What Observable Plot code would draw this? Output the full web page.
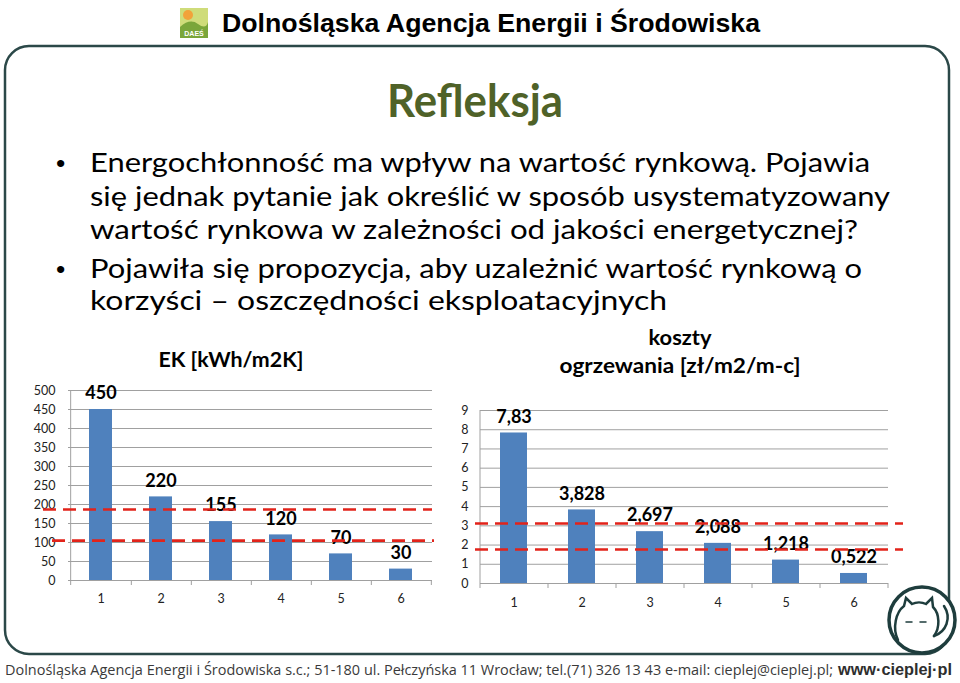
<!DOCTYPE html>
<html>
<head>
<meta charset="utf-8">
<script src="https://cdn.jsdelivr.net/npm/d3@7"></script>
<script src="https://cdn.jsdelivr.net/npm/@observablehq/plot@0.6"></script>
<style>
  html, body { margin: 0; padding: 0; background: #fff; }
  #page { position: relative; width: 960px; height: 683px; overflow: hidden; background: #fff; }
  #deco { position: absolute; left: 0; top: 0; }
  #ek { position: absolute; left: 0; top: 370px; }
  #cost { position: absolute; left: 440px; top: 380px; }
</style>
</head>
<body>
<div id="page">
<svg id="deco" width="960" height="683" viewBox="0 0 960 683">
  <!-- header logo -->
  <rect x="180" y="8" width="28" height="30" fill="#cfdc7a"/>
  <circle cx="188" cy="15" r="5" fill="#f2a23a"/>
  <path d="M180,27 Q190,18 198,24 T208,22 L208,38 L180,38 Z" fill="#7aa63a"/>
  <text x="194" y="36" text-anchor="middle" font-family="Liberation Sans" font-weight="bold" font-size="7" fill="#fff">DAEŚ</text>
  <text x="222" y="32" font-family="Liberation Sans Narrow, Liberation Sans" font-weight="bold" font-size="26" textLength="538" lengthAdjust="spacingAndGlyphs" fill="#000">Dolnośląska  Agencja  Energii  i  Środowiska</text>
  <!-- frame -->
  <rect x="5" y="46" width="944" height="608" rx="24" ry="24" fill="none" stroke="#2b4848" stroke-width="2.5"/>
  <!-- title -->
  <text x="387" y="117" font-family="Lato" font-weight="bold" font-size="45" textLength="176" lengthAdjust="spacingAndGlyphs" fill="#4f6228">Refleksja</text>
  <!-- bullets -->
  <g font-family="Lato" font-size="26.5" fill="#000">
    <text x="56" y="172" font-family="Liberation Sans">•</text>
    <text x="90" y="172" textLength="780" lengthAdjust="spacingAndGlyphs">Energochłonność ma wpływ na wartość rynkową. Pojawia</text>
    <text x="90" y="206" textLength="800" lengthAdjust="spacingAndGlyphs">się jednak pytanie jak określić w sposób usystematyzowany</text>
    <text x="90" y="239" textLength="768" lengthAdjust="spacingAndGlyphs">wartość rynkowa w zależności od jakości energetycznej?</text>
    <text x="56" y="278" font-family="Liberation Sans">•</text>
    <text x="90" y="278" textLength="772" lengthAdjust="spacingAndGlyphs">Pojawiła się propozycja, aby uzależnić wartość rynkową o</text>
    <text x="90" y="310" textLength="577" lengthAdjust="spacingAndGlyphs">korzyści – oszczędności eksploatacyjnych</text>
  </g>
  <!-- chart titles -->
  <g font-family="Lato" font-weight="bold" font-size="21" fill="#000" text-anchor="middle">
    <text x="231" y="367" textLength="145" lengthAdjust="spacingAndGlyphs">EK [kWh/m2K]</text>
    <text x="680" y="345" textLength="63" lengthAdjust="spacingAndGlyphs">koszty</text>
    <text x="680" y="373" textLength="241" lengthAdjust="spacingAndGlyphs">ogrzewania [zł/m2/m-c]</text>
  </g>
  <!-- cat logo -->
  <circle cx="922" cy="620" r="33" fill="#fff" stroke="#1e3d3d" stroke-width="3.5"/>
  <g fill="none" stroke="#1e3d3d" stroke-width="2.5" stroke-linecap="round">
    <path d="M898,640 C892,628 896,612 904,606 L906,598 L912,604 C916,602 922,602 926,604 L932,598 L933,607 C940,614 940,628 934,636"/>
    <path d="M934,636 C946,632 952,618 944,606"/>
    <path d="M906,622 L912,622 M920,622 L926,622" stroke-width="1.5"/>
  </g>
  <!-- footer -->
  <text x="5" y="675" font-family="Open Sans" font-size="14" textLength="828" lengthAdjust="spacingAndGlyphs" fill="#3a3a3a">Dolnośląska Agencja Energii i Środowiska s.c.; 51-180 ul. Pełczyńska 11 Wrocław; tel.(71) 326 13 43 e-mail: cieplej@cieplej.pl;</text>
  <text x="838" y="675" font-family="Liberation Sans Narrow, Liberation Sans" font-weight="bold" font-size="17" textLength="114" lengthAdjust="spacingAndGlyphs" fill="#2e2e2e">www·cieplej·pl</text>
</svg>
<div id="ek"></div>
<div id="cost"></div>
</div>
<script>
// ---- data ----
const ekCategories = [1, 2, 3, 4, 5, 6];
const ekValues = [450, 220, 155, 120, 70, 30];
const ekTicks = [0, 50, 100, 150, 200, 250, 300, 350, 400, 450, 500];
const ekThresholds = [187, 105];

const costCategories = [1, 2, 3, 4, 5, 6];
const costValues = [7.83, 3.828, 2.697, 2.088, 1.218, 0.522];
const costTicks = [0, 1, 2, 3, 4, 5, 6, 7, 8, 9];
const costThresholds = [3.12, 1.77];

const barColor = "#4f81bd";
const gridColor = "#a0a0a0";
const redColor = "#e2231a";

function makeChart({cats, values, ticks, thresholds, width, height, margins, inner, thrInsets, tickPad, xPad, yMax, fmt}) {
  const data = cats.map((c, i) => ({cat: c, value: values[i]}));
  const step = (width - margins.left - margins.right) / cats.length;
  const marks = [
    Plot.ruleY(ticks, {stroke: gridColor, strokeWidth: 1}),
    Plot.ruleX([cats[0]], {dx: -step / 2, y1: 0, y2: yMax, stroke: gridColor}),
    Plot.ruleX(cats, {x: d => d, dx: step / 2, y1: 0, y2: 0, insetBottom: -5, stroke: gridColor}),
    Plot.ruleX([cats[0]], {dx: -step / 2, y1: 0, y2: 0, insetBottom: -5, stroke: gridColor}),
    Plot.barY(data, {x: "cat", y: "value", fill: barColor}),
    Plot.axisY({ticks, tickSize: 0, tickPadding: tickPad, label: null, fontSize: 12.5}),
    Plot.axisX({tickSize: 0, tickPadding: xPad, label: null, fontSize: 12.5}),
    Plot.text(data, {x: "cat", y: "value", text: d => fmt(d.value), dy: -16, lineAnchor: "middle",
      fontSize: 18, fontWeight: "bold", fill: "#000"})
  ];
  thresholds.forEach((t, i) => {
    marks.push(Plot.ruleY([t], {stroke: redColor, strokeWidth: 2.6, strokeDasharray: "13,7",
      insetLeft: thrInsets[i][0], insetRight: thrInsets[i][1]}));
  });
  return Plot.plot({
    width, height,
    marginLeft: margins.left, marginRight: margins.right, marginTop: margins.top, marginBottom: margins.bottom,
    style: {fontFamily: "Lato", fontSize: "12.5px", color: "#222", background: "transparent", overflow: "visible"},
    x: {domain: cats, paddingInner: inner, paddingOuter: inner / 2, label: null, axis: null},
    y: {domain: [0, yMax], label: null, axis: null},
    marks
  });
}

document.getElementById("ek").append(makeChart({
  cats: ekCategories, values: ekValues, ticks: ekTicks, thresholds: ekThresholds,
  width: 440, height: 250, margins: {left: 68, right: 8, top: 20, bottom: 40},
  inner: 0.62, thrInsets: [[-25, 0], [-16, -2]], tickPad: 13, xPad: 14, yMax: 500,
  fmt: v => String(v)
}));

document.getElementById("cost").append(makeChart({
  cats: costCategories, values: costValues, ticks: costTicks, thresholds: costThresholds,
  width: 480, height: 245, margins: {left: 40, right: 32, top: 30, bottom: 42},
  inner: 0.6, thrInsets: [[-5, -15], [-5, -15]], tickPad: 12, xPad: 15, yMax: 9,
  fmt: v => String(v).replace(".", ",")
}));
</script>
</body>
</html>
